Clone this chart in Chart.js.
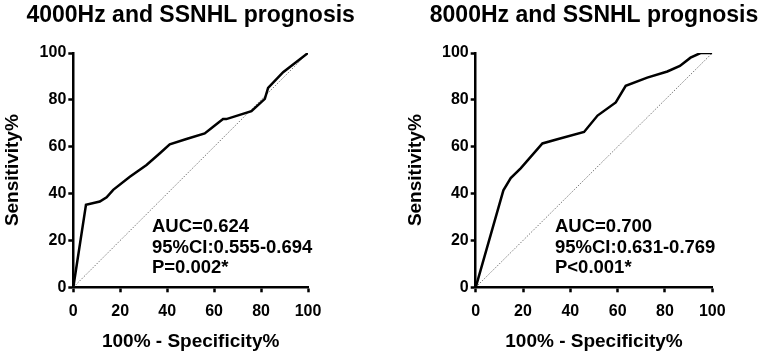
<!DOCTYPE html>
<html>
<head>
<meta charset="utf-8">
<script src="https://cdn.jsdelivr.net/npm/chart.js@4"></script>
<style>
  body { margin: 0; background: #fff; }
  #wrap { position: relative; width: 765px; height: 360px; }
  canvas { position: absolute; top: 0; }
</style>
</head>
<body>
<div id="wrap">
  <canvas id="roc-4000" width="382" height="360" style="left:0"></canvas>
  <canvas id="roc-8000" width="383" height="360" style="left:382px"></canvas>
</div>
<script>
// (1 - specificity %, sensitivity %)
const fpr4000 = [0, 5.4, 11.3, 14.2, 17, 24.1, 31.2, 36.9, 41.1, 48.2, 56, 59.6, 63.8, 65.2, 75.9, 79.4, 81.6, 83, 89.4, 100];
const sens4000 = [0, 35.2, 36.6, 38.4, 41.6, 47.2, 52.2, 57.2, 61, 63.3, 65.7, 68.5, 71.8, 71.8, 75.2, 78.4, 80.4, 85.1, 91.8, 100];

const fpr8000 = [0, 11.7, 14.8, 19, 28.2, 34.5, 45.8, 51.5, 59.2, 63.4, 72.5, 81, 86.3, 90.8, 95, 100];
const sens8000 = [0, 41.4, 46.6, 50.8, 61.4, 63.2, 66.3, 73.3, 78.9, 86, 89.5, 92.1, 94.5, 98, 100, 100];

const diagonal = [0, 100];

const stats4000 = ['AUC=0.624', '95%CI:0.555-0.694', 'P=0.002*'];
const stats8000 = ['AUC=0.700', '95%CI:0.631-0.769', 'P<0.001*'];

const FONT = '"Liberation Sans", Arial, sans-serif';

function toPoints(xs, ys) {
    return xs.map((x, i) => ({x: x, y: ys[i]}));
}

// writes the AUC block inside the plot, anchored on data coords
const statsText = {
    id: 'statsText',
    afterDatasetsDraw(chart, args, opts) {
        const ctx = chart.ctx;
        const x = chart.scales.x.getPixelForValue(opts.x);
        const y = chart.scales.y.getPixelForValue(opts.y);
        ctx.save();
        ctx.font = 'bold 18.5px ' + FONT;
        ctx.fillStyle = '#000';
        ctx.textAlign = 'left';
        ctx.textBaseline = 'middle';
        opts.lines.forEach((line, i) => {
            ctx.fillText(line, x, y + i * 20.5);
        });
        ctx.restore();
    }
};

// title box is only as wide as the plot (fullSize false), so widen it
// around the plot centre, otherwise the text gets squeezed
const wideTitle = {
    id: 'wideTitle',
    afterLayout(chart) {
        const t = chart.titleBlock;
        if (!t) return;
        const mid = (chart.chartArea.left + chart.chartArea.right) / 2;
        t.left = mid - 200;
        t.right = mid + 200;
        t.width = 400;
    }
};

function makeRoc(canvas, title, xs, ys, lines, pad, yWidth) {
    const axis = (titleText) => ({
        type: 'linear',
        min: 0,
        max: 100,
        border: {color: '#000', width: 2.5},
        grid: {drawOnChartArea: false, tickLength: 5, tickWidth: 2.5, tickColor: '#000'},
        ticks: {stepSize: 20, color: '#000', font: {family: FONT, size: 16, weight: 'bold'}},
        title: {display: true, text: titleText, color: '#000', padding: 0,
                font: {family: FONT, size: 19, weight: 'bold'}}
    });

    const xScale = axis('100% - Specificity%');
    xScale.ticks.padding = 10;
    xScale.ticks.maxRotation = 0;
    xScale.afterFit = s => { s.height = 65.6; };

    const yScale = axis('Sensitivity%');
    yScale.ticks.padding = 2;
    yScale.afterFit = s => { s.width = yWidth; };

    try {
        new Chart(canvas, {
            type: 'scatter',
            data: {
                datasets: [{
                    data: toPoints(diagonal, diagonal),
                    showLine: true,
                    borderColor: '#7a7a7a',
                    borderWidth: 1,
                    borderDash: [1.5, 1.5],
                    pointRadius: 0,
                    order: 2
                }, {
                    data: toPoints(xs, ys),
                    showLine: true,
                    borderColor: '#000',
                    borderWidth: 2.5,
                    pointRadius: 0,
                    order: 1
                }]
            },
            options: {
                responsive: false,
                animation: false,
                devicePixelRatio: 1,
                layout: {padding: pad},
                scales: {x: xScale, y: yScale},
                plugins: {
                    legend: {display: false},
                    tooltip: {enabled: false},
                    title: {
                        display: true,
                        text: title,
                        fullSize: false,
                        color: '#000',
                        font: {family: FONT, size: 23, weight: 'bold'},
                        padding: {top: 2, bottom: 23.4}
                    },
                    statsText: {x: 33.5, y: 25.7, lines: lines}
                }
            },
            plugins: [statsText, wideTitle]
        });
    } catch (error) {
        console.error(error);
    }
}

makeRoc(document.getElementById('roc-4000'), '4000Hz and SSNHL prognosis', fpr4000, sens4000, stats4000,
    {left: 1, right: 74, top: 0, bottom: 7.1}, 72.3);
makeRoc(document.getElementById('roc-8000'), '8000Hz and SSNHL prognosis', fpr8000, sens8000, stats8000,
    {left: 22.1, right: 52.7, top: 0, bottom: 7.1}, 71.6);
</script>
</body>
</html>
